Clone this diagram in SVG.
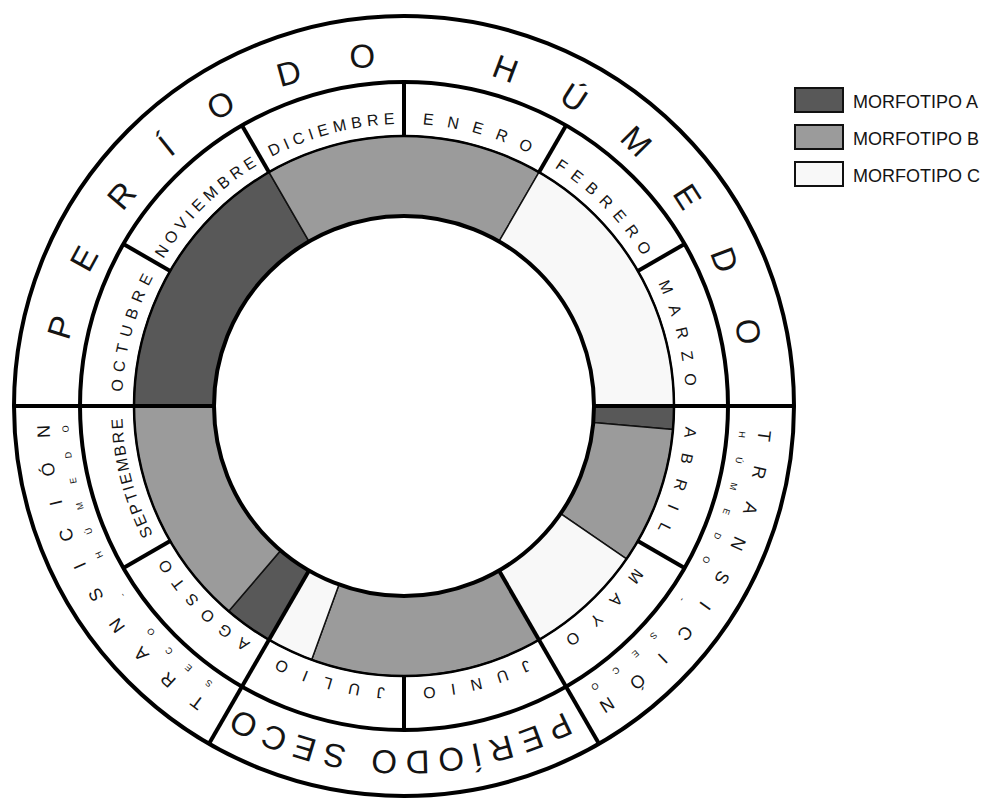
<svg xmlns="http://www.w3.org/2000/svg" xmlns:xlink="http://www.w3.org/1999/xlink" width="989" height="798" viewBox="0 0 989 798">
<style>
text{font-family:"Liberation Sans",Arial,sans-serif;fill:#141414;}
.mes{font-size:16px;}
.big{font-size:33px;}
.tr{font-size:18px;}
.sm{font-size:9px;}
.leg{font-size:18px;}
.a{fill:#585858;}
.b{fill:#9b9b9b;}
.c{fill:#f8f8f8;}
.sec{stroke:#111;stroke-width:1.5;}
.ring{fill:none;stroke:#000;}
.sep{stroke:#000;stroke-width:4;stroke-linecap:butt;}
.box{stroke:#111;stroke-width:2;}
</style>
<defs>
<path id="p282" d="M 122 406 A 282 282 0 1 1 686 406 A 282 282 0 1 1 122 406"/>
<path id="p340" d="M 64 406 A 340 340 0 1 1 744 406 A 340 340 0 1 1 64 406"/>
<path id="p345" d="M 59 406 A 345 345 0 1 1 749 406 A 345 345 0 1 1 59 406"/>
<path id="p355" d="M 49 406 A 355 355 0 1 1 759 406 A 355 355 0 1 1 49 406"/>
<path id="p336" d="M 68 406 A 336 336 0 1 1 740 406 A 336 336 0 1 1 68 406"/>
</defs>
<rect width="989" height="798" fill="#fff"/>
<g id="datos">
<path class="a sec" d="M 134 406 A 270 270 0 0 1 269 172.17 L 309 241.45 A 190 190 0 0 0 214 406 Z"/>
<path class="b sec" d="M 269 172.17 A 270 270 0 0 1 539 172.17 L 499 241.45 A 190 190 0 0 0 309 241.45 Z"/>
<path class="c sec" d="M 539 172.17 A 270 270 0 0 1 674 406 L 594 406 A 190 190 0 0 0 499 241.45 Z"/>
<path class="a sec" d="M 674 406 A 270 270 0 0 1 672.97 429.53 L 593.28 422.56 A 190 190 0 0 0 594 406 Z"/>
<path class="b sec" d="M 672.97 429.53 A 270 270 0 0 1 626.52 558.93 L 560.58 513.62 A 190 190 0 0 0 593.28 422.56 Z"/>
<path class="c sec" d="M 626.52 558.93 A 270 270 0 0 1 539 639.83 L 499 570.55 A 190 190 0 0 0 560.58 513.62 Z"/>
<path class="b sec" d="M 539 639.83 A 270 270 0 0 1 311.65 659.72 L 339.02 584.54 A 190 190 0 0 0 499 570.55 Z"/>
<path class="c sec" d="M 311.65 659.72 A 270 270 0 0 1 269 639.83 L 309 570.55 A 190 190 0 0 0 339.02 584.54 Z"/>
<path class="a sec" d="M 269 639.83 A 270 270 0 0 1 228.65 611.31 L 280.6 550.48 A 190 190 0 0 0 309 570.55 Z"/>
<path class="b sec" d="M 228.65 611.31 A 270 270 0 0 1 134 406 L 214 406 A 190 190 0 0 0 280.6 550.48 Z"/>
</g>
<g id="conectores">
<circle class="ring" cx="404" cy="406" r="190" stroke-width="4"/>
<circle class="ring" cx="404" cy="406" r="270" stroke-width="2.5"/>
<circle class="ring" cx="404" cy="406" r="324" stroke-width="4"/>
<circle class="ring" cx="404" cy="406" r="390" stroke-width="4"/>
<line class="sep" x1="14" y1="406" x2="214" y2="406"/>
<line class="sep" x1="594" y1="406" x2="794" y2="406"/>
<line class="sep" x1="499" y1="570.55" x2="599" y2="743.75"/>
<line class="sep" x1="309" y1="570.55" x2="209" y2="743.75"/>
<line class="sep" x1="170.17" y1="271" x2="123.41" y2="244"/>
<line class="sep" x1="269" y1="172.17" x2="242" y2="125.41"/>
<line class="sep" x1="404" y1="136" x2="404" y2="82"/>
<line class="sep" x1="539" y1="172.17" x2="566" y2="125.41"/>
<line class="sep" x1="637.83" y1="271" x2="684.59" y2="244"/>
<line class="sep" x1="637.83" y1="541" x2="684.59" y2="568"/>
<line class="sep" x1="404" y1="676" x2="404" y2="730"/>
<line class="sep" x1="170.17" y1="541" x2="123.41" y2="568"/>
</g>
<g id="mes-octubre"><text class="mes" text-anchor="middle" letter-spacing="6.9"><textPath xlink:href="#p282" startOffset="77.3">OCTUBRE</textPath></text></g>
<g id="mes-noviembre"><text class="mes" text-anchor="middle" letter-spacing="4.7"><textPath xlink:href="#p282" startOffset="223.8">NOVIEMBRE</textPath></text></g>
<g id="mes-diciembre"><text class="mes" text-anchor="middle" letter-spacing="4.9"><textPath xlink:href="#p282" startOffset="371.6">DICIEMBRE</textPath></text></g>
<g id="mes-enero"><text class="mes" text-anchor="middle" letter-spacing="13.5"><textPath xlink:href="#p282" startOffset="523.5">ENERO</textPath></text></g>
<g id="mes-febrero"><text class="mes" text-anchor="middle" letter-spacing="8.1"><textPath xlink:href="#p282" startOffset="668.5">FEBRERO</textPath></text></g>
<g id="mes-marzo"><text class="mes" text-anchor="middle" letter-spacing="12.3"><textPath xlink:href="#p282" startOffset="818.2">MARZO</textPath></text></g>
<g id="mes-abril"><text class="mes" text-anchor="middle" letter-spacing="15.2"><textPath xlink:href="#p282" startOffset="967.4">ABRIL</textPath></text></g>
<g id="mes-mayo"><text class="mes" text-anchor="middle" letter-spacing="18.1"><textPath xlink:href="#p282" startOffset="1116.5">MAYO</textPath></text></g>
<g id="mes-junio"><text class="mes" text-anchor="middle" letter-spacing="15.2"><textPath xlink:href="#p282" startOffset="1262.7">JUNIO</textPath></text></g>
<g id="mes-julio"><text class="mes" text-anchor="middle" letter-spacing="16.45"><textPath xlink:href="#p282" startOffset="1410.9">JULIO</textPath></text></g>
<g id="mes-agosto"><text class="mes" text-anchor="middle" letter-spacing="10.3"><textPath xlink:href="#p282" startOffset="1555.5">AGOSTO</textPath></text></g>
<g id="mes-septiembre"><text class="mes" text-anchor="middle" letter-spacing="2"><textPath xlink:href="#p282" startOffset="1699">SEPTIEMBRE</textPath></text></g>
<g id="periodo-humedo"><text class="big" text-anchor="middle" letter-spacing="48" word-spacing="10"><textPath xlink:href="#p340" startOffset="560.1">PERÍODO HÚMEDO</textPath></text></g>
<g id="periodo-seco"><text class="big" text-anchor="middle" letter-spacing="7.8"><textPath xlink:href="#p345" startOffset="1632.4">PERÍODO SECO</textPath></text></g>
<g id="transicion-humedo-seco">
<text class="tr" text-anchor="middle" letter-spacing="24.1"><textPath xlink:href="#p355" startOffset="1314.7">TRANSICIÓN</textPath></text>
<text class="sm" text-anchor="middle" letter-spacing="19.3"><textPath xlink:href="#p336" startOffset="1242.4">HÚMEDO - SECO</textPath></text>
</g>
<g id="transicion-seco-humedo">
<text class="tr" text-anchor="middle" letter-spacing="24.1"><textPath xlink:href="#p355" startOffset="2058.8">TRANSICIÓN</textPath></text>
<text class="sm" text-anchor="middle" letter-spacing="19.3"><textPath xlink:href="#p336" startOffset="1947.9">SECO - HÚMEDO</textPath></text>
</g>
<g id="leyenda">
<g id="leyenda-a"><rect class="a box" x="795" y="88" width="48" height="24"/><text class="leg" x="853" y="107.5">MORFOTIPO A</text></g>
<g id="leyenda-b"><rect class="b box" x="795" y="125" width="48" height="24"/><text class="leg" x="853" y="144.5">MORFOTIPO B</text></g>
<g id="leyenda-c"><rect class="c box" x="795" y="162" width="48" height="24"/><text class="leg" x="853" y="181.5">MORFOTIPO C</text></g>
</g>
</svg>
